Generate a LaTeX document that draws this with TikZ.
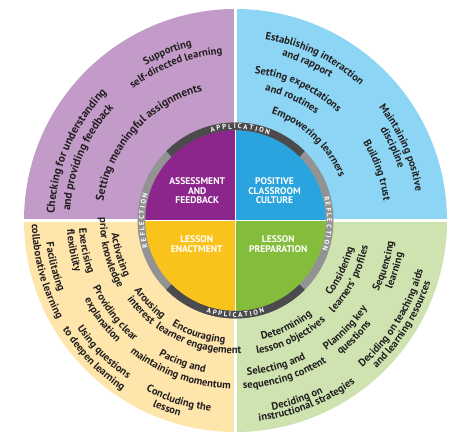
\documentclass[tikz,border=0pt]{standalone}
\usepackage{fontspec}
\setmainfont{PT Sans}
\usetikzlibrary{decorations.text}
\definecolor{opurple}{HTML}{C39BC8}
\definecolor{oblue}{HTML}{8DD5F4}
\definecolor{oyellow}{HTML}{FEE5AC}
\definecolor{ogreen}{HTML}{CFE3B0}
\definecolor{ipurple}{HTML}{8C268C}
\definecolor{iblue}{HTML}{29A4DE}
\definecolor{iyellow}{HTML}{FAC31C}
\definecolor{igreen}{HTML}{84BD3C}
\definecolor{ringdark}{HTML}{4B4B4D}
\definecolor{ringlight}{HTML}{939393}
\definecolor{ink}{HTML}{231F20}
\newcommand\outerfont{\fontsize{10.6}{12}\selectfont\bfseries\color{ink}}
\newcommand\bigfont{\fontsize{11.4}{12}\selectfont\bfseries\color{ink}}
\newcommand\ringfont{\fontsize{7}{8}\selectfont\bfseries\color{white}}
\newcommand\cw[4][\outerfont]{\path[decorate,decoration={text along path,text align=center,text={|#1|#4}}] (#3+70:#2pt) arc[start angle=#3+70,end angle=#3-70,radius=#2pt];}
\newcommand\ccw[4][\outerfont]{\path[decorate,decoration={text along path,text align=center,text={|#1|#4}}] (#3-70:#2pt) arc[start angle=#3-70,end angle=#3+70,radius=#2pt];}
\tikzset{
  centerlbl/.style={text=white,font=\fontsize{9.6}{9.6}\selectfont\bfseries,align=center,inner sep=0pt},
  sep/.style={white,line width=#1},
}
\begin{document}
\begin{tikzpicture}
\useasboundingbox (-235.5pt,-221.5pt) rectangle (229.5pt,220.5pt);
% outer sectors
\fill[opurple] (0,0) -- (90:211.5pt) arc[start angle=90,end angle=180,radius=211.5pt] -- cycle;
\fill[oblue] (0,0) -- (0:211.5pt) arc[start angle=0,end angle=90,radius=211.5pt] -- cycle;
\fill[oyellow] (0,0) -- (180:211.5pt) arc[start angle=180,end angle=270,radius=211.5pt] -- cycle;
\fill[ogreen] (0,0) -- (270:211.5pt) arc[start angle=270,end angle=360,radius=211.5pt] -- cycle;
\draw[sep=3pt] (0pt,214pt) -- (0pt,-214pt);
\draw[sep=3pt] (-214pt,0pt) -- (214pt,0pt);
% ring
\draw[ringlight,line width=8pt] (0,0) circle[radius=94pt];
\draw[ringdark,line width=8pt] (45:94pt) arc[start angle=45,end angle=135,radius=94pt];
\draw[ringdark,line width=8pt] (225:94pt) arc[start angle=225,end angle=315,radius=94pt];
% inner sectors
\fill[ipurple] (0,0) -- (90:90.2pt) arc[start angle=90,end angle=180,radius=90.2pt] -- cycle;
\fill[iblue] (0,0) -- (0:90.2pt) arc[start angle=0,end angle=90,radius=90.2pt] -- cycle;
\fill[iyellow] (0,0) -- (180:90.2pt) arc[start angle=180,end angle=270,radius=90.2pt] -- cycle;
\fill[igreen] (0,0) -- (270:90.2pt) arc[start angle=270,end angle=360,radius=90.2pt] -- cycle;
\draw[sep=1.8pt] (0pt,90.2pt) -- (0pt,-90.2pt);
\draw[sep=1.8pt] (-90.2pt,0pt) -- (90.2pt,0pt);
% ring texts
\cw[\ringfont]{91.5}{87}{A P P L I C A T I O N}
\cw[\ringfont]{91.5}{180}{R E F L E C T I O N}
\cw[\ringfont]{91.5}{-2}{R E F L E C T I O N}
\ccw[\ringfont]{96.6}{270}{A P P L I C A T I O N}
% centre labels
\node[centerlbl] (af) at (-38.3pt,29.8pt) {ASSESSMENT\\AND\\FEEDBACK};
\node[centerlbl] (pc) at (39pt,29.8pt) {POSITIVE\\CLASSROOM\\CULTURE};
\node[centerlbl] (le) at (-38.8pt,-23.7pt) {LESSON\\ENACTMENT};
\node[centerlbl] (lp) at (42.8pt,-23.7pt) {LESSON\\PREPARATION};
% top-left
\cw{179.5}{112}{Supporting}
\cw{167}{111.2}{self-directed learning}
\cw[\bigfont]{133.5}{138}{Setting meaningful assignments}
\cw[\bigfont]{181}{156.5}{Checking for understanding}
\cw[\bigfont]{165.5}{157}{and providing feedback}
% top-right
\cw{183.5}{64}{Establishing interaction}
\cw{171}{65.4}{and rapport}
\cw{148.5}{64.6}{Setting expectations}
\cw{133}{65}{and routines}
\cw{112.5}{47}{Empowering learners}
\cw{182.5}{23.7}{Maintaining positive}
\cw{171}{25}{discipline}
\cw{149.5}{19.5}{Building trust}
% bottom-left
\ccw{124.5}{196.5}{Activating}
\ccw{135.5}{194.5}{prior knowledge}
\ccw{156.5}{191.5}{Exercising}
\ccw{168.5}{190.5}{flexibility}
\ccw{190.5}{194.4}{Facilitating}
\ccw{203.5}{195}{collaborative learning}
\ccw{123}{224}{Arousing}
\ccw{134}{223.5}{interest}
\ccw{123}{252}{Encouraging}
\ccw{133.5}{252.8}{learner engagement}
\ccw{157.5}{217.5}{Providing clear}
\ccw{170.5}{216.8}{explanation}
\ccw{155}{249.5}{Pacing and}
\ccw{168.5}{249.8}{maintaining momentum}
\ccw{191.5}{225}{Using questions}
\ccw{204.5}{224.3}{to deepen learning}
\ccw{192.5}{252.4}{Concluding the}
\ccw{203.5}{250}{lesson}
% bottom-right
\ccw{122}{295.7}{Determining}
\ccw{135}{295.5}{lesson objectives}
\ccw{155}{285.7}{Selecting and}
\ccw{168.5}{287.7}{sequencing content}
\ccw{193.3}{289}{Deciding on}
\ccw{202}{291.5}{instructional strategies}
\ccw{158.5}{315.6}{Planning key}
\ccw{170.5}{315.3}{questions}
\ccw{121}{334.3}{Considering}
\ccw{135}{332.8}{learners' profiles}
\ccw{159.5}{343}{Sequencing}
\ccw{170.5}{342.6}{learning}
\ccw{194}{328}{Deciding on teaching aids}
\ccw{204.5}{328}{and learning resources}
\end{tikzpicture}
\end{document}
